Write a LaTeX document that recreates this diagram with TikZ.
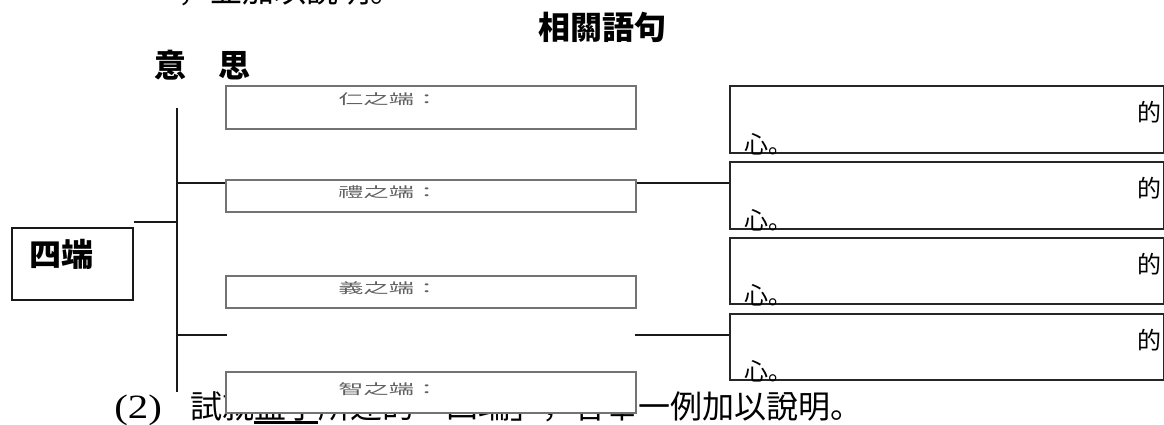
\documentclass[tikz,border=0pt]{standalone}
\usepackage{fontspec}
\usepackage{graphicx}
\setmainfont{Liberation Serif}
\newfontfamily\cjk{Noto Sans CJK JP}

\tikzstyle{meaning} = [draw=black!55,line width=1pt,fill=white,anchor=north west,minimum width=205pt,inner sep=0pt]
\tikzstyle{sentence} = [draw=black!85,line width=1pt,anchor=north west,minimum width=217pt,inner sep=0pt]
\tikzstyle{hint} = [anchor=west,inner sep=0pt,text=black!62,font=\cjk\fontsize{7pt}{8pt}\selectfont]
\tikzstyle{endchar} = [anchor=east,inner sep=0pt,font=\cjk\fontsize{12pt}{12pt}\selectfont]
\tikzstyle{xinchar} = [anchor=base west,inner sep=0pt,font=\cjk\fontsize{12pt}{12pt}\selectfont]
\tikzstyle{headtext} = [inner sep=0pt,font=\cjk\bfseries\fontsize{16pt}{16pt}\selectfont]
\tikzstyle{qtext} = [anchor=base west,inner sep=0pt,font=\cjk\fontsize{16pt}{16pt}\selectfont]
\tikzstyle{link} = [line width=1.4pt,black!90]

\begin{document}
\begin{tikzpicture}[x=0.5pt,y=-0.5pt]
	\useasboundingbox (0,0) rectangle (1164,424);
	\clip (0,0) rectangle (1164,424);

	% question lines
	\node[qtext] (q1) at (178,2) {，並加以說明。};
	\node[anchor=base west,inner sep=0pt,font=\fontsize{17pt}{17pt}\selectfont] (q2num) at (114,418) {\scalebox{1.2}[1]{(2)}};
	\node[qtext] (q2) at (190,418) {試就\rlap{\rule[-2.8pt]{2em}{1.4pt}}孟子所述的「四端」，各舉一例加以說明。};

	\node[headtext] (head) at (602,27) {相關語句};
	\node[headtext] (mean) at (203,65) {意　思};

	% root
	\node[draw=black!90,line width=1pt,anchor=north west,minimum width=60.5pt,minimum height=36pt,inner sep=0pt] (root) at (11,227) {};
	\node[headtext] (roottext) at (62,254) {四端};

	% meaning boxes
	\node[meaning,minimum height=21.5pt] (m1) at (225,85) {};
	\node[meaning,minimum height=16pt] (m2) at (225,179) {};
	\node[meaning,minimum height=16pt] (m3) at (225,275) {};
	\node[meaning,minimum height=20.5pt] (m4) at (225,371) {};
	\node[hint] (h1) at (338,99) {\scalebox{1.8}[1]{仁之端：}};
	\node[hint] (h2) at (338,192) {\scalebox{1.8}[1]{禮之端：}};
	\node[hint] (h3) at (338,288) {\scalebox{1.8}[1]{義之端：}};
	\node[hint] (h4) at (338,389) {\scalebox{1.8}[1]{智之端：}};

	% sentence boxes
	\node[sentence,minimum height=33.5pt] (s1) at (729,85) {};
	\node[sentence,minimum height=33.5pt] (s2) at (729,161) {};
	\node[sentence,minimum height=33pt] (s3) at (729,237) {};
	\node[sentence,minimum height=33pt] (s4) at (729,313) {};
	\foreach \i/\y in {1/112,2/188,3/264,4/340} {
		\node[endchar] (d\i) at (1162,\y) {的};
	}
	\foreach \i/\y in {1/153,2/229,3/304,4/380} {
		\node[xinchar] (x\i) at (744,\y) {心。};
	}

	% connectors
	\coordinate (top) at (177,108);
	\coordinate (bot) at (177,392);
	\coordinate (j0) at (177,222);
	\coordinate (j1) at (177,183);
	\coordinate (j3) at (177,335);
	\coordinate (gapL) at (227,335);
	\coordinate (gapR) at (635,335);
	\draw[link] (top) -- (bot);
	\draw[link] (j0) -- (j0 -| root.east);
	\draw[link] (j1) -- (j1 -| m2.west);
	\draw[link] (m2.east |- j1) -- (j1 -| s2.west);
	\draw[link] (j3) -- (gapL);
	\draw[link] (gapR) -- (gapR -| s4.west);
\end{tikzpicture}
\end{document}
